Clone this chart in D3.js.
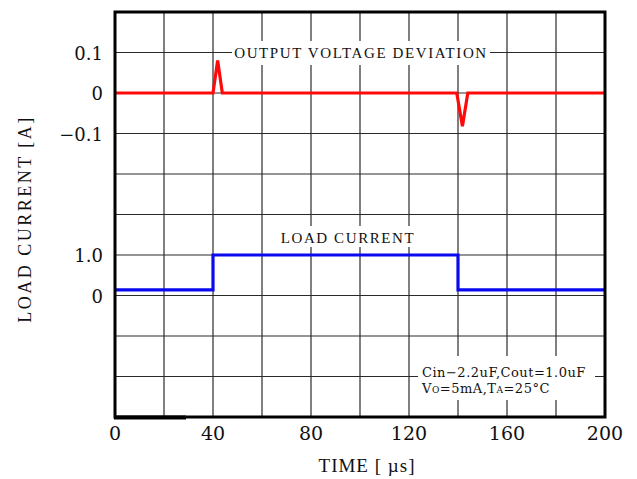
<!DOCTYPE html>
<html>
<head>
<meta charset="utf-8">
<script src="https://cdn.jsdelivr.net/npm/d3@7"></script>
<style>
body { margin: 0; background: #fff; }
text { font-family: "Liberation Serif", "DejaVu Serif", serif; fill: #111; }
text.num { font-family: "DejaVu Serif", serif; }
</style>
</head>
<body>
<svg id="chart" width="637" height="479"></svg>
<script>
// time axis [us]
var xTicks = [0, 40, 80, 120, 160, 200];
var xGrid = [0, 20, 40, 60, 80, 100, 120, 140, 160, 180, 200];

// output voltage deviation trace
var devTime = [0, 40, 41.9, 43.8, 139.5, 141.8, 144, 200];
var devValue = [0, 0, 0.08, 0, 0, -0.082, 0, 0];
var devTicks = [0.1, 0, -0.1];
var devTickLabels = ["0.1", "0", "\u22120.1"];

// load current trace
var loadTime = [0, 40, 40, 140, 140, 200];
var loadValue = [0.14, 0.14, 1.0, 1.0, 0.14, 0.14];
var loadTicks = [1.0, 0];
var loadTickLabels = ["1.0", "0"];

(function() {
	var svg = d3.select("#chart");
	var pl = 115, pr = 605, pt = 12, pb = 417;

	var x = d3.scaleLinear().domain([0, 200]).range([pl, pr]);
	// 10 grid rows over the plot height
	var row = d3.scaleLinear().domain([0, 10]).range([pt, pb]);
	var yDev = d3.scaleLinear().domain([0.1, -0.1]).range([row(1), row(3)]);
	var yLoad = d3.scaleLinear().domain([0, 1]).range([row(7), row(6)]);

	// grid
	var grid = svg.append("g").attr("stroke", "#2a2a2a").attr("stroke-width", 1.2);
	grid.selectAll("line.v").data(xGrid).enter().append("line")
		.attr("x1", function(d) { return x(d); })
		.attr("x2", function(d) { return x(d); })
		.attr("y1", pt).attr("y2", pb);
	grid.selectAll("line.h").data(d3.range(1, 10)).enter().append("line")
		.attr("x1", pl).attr("x2", pr)
		.attr("y1", function(d) { return row(d); })
		.attr("y2", function(d) { return row(d); });

	// white boxes under the labels break the grid
	svg.append("rect").attr("x", 232).attr("y", 41).attr("width", 258).attr("height", 24).attr("fill", "#fff");
	svg.append("rect").attr("x", 278).attr("y", 226).attr("width", 140).attr("height", 21).attr("fill", "#fff");
	svg.append("rect").attr("x", 418).attr("y", 356).attr("width", 177).attr("height", 44).attr("fill", "#fff");

	var line = d3.line();

	svg.append("path")
		.attr("d", line(devTime.map(function(t, i) { return [x(t), yDev(devValue[i])]; })))
		.attr("fill", "none").attr("stroke", "#ff0a0a").attr("stroke-width", 3.2);

	svg.append("path")
		.attr("d", line(loadTime.map(function(t, i) { return [x(t), yLoad(loadValue[i])]; })))
		.attr("fill", "none").attr("stroke", "#0a0af0").attr("stroke-width", 3.2);

	// frame
	svg.append("rect").attr("x", pl).attr("y", pt)
		.attr("width", pr - pl).attr("height", pb - pt)
		.attr("fill", "none").attr("stroke", "#000").attr("stroke-width", 3);
	svg.append("line").attr("x1", x(0) - 1).attr("x2", x(29))
		.attr("y1", pb + 0.5).attr("y2", pb + 0.5)
		.attr("stroke", "#000").attr("stroke-width", 4);

	// x tick labels
	svg.selectAll("text.xt").data(xTicks).enter().append("text")
		.attr("class", "num")
		.attr("x", function(d) { return x(d); })
		.attr("y", 440)
		.attr("text-anchor", "middle")
		.attr("font-size", 19)
		.text(function(d) { return d; });

	// y tick labels
	svg.selectAll("text.yd").data(devTicks).enter().append("text")
		.attr("class", "num")
		.attr("x", 103).attr("y", function(d) { return yDev(d) + 7; })
		.attr("text-anchor", "end").attr("font-size", 18)
		.text(function(d, i) { return devTickLabels[i]; });
	svg.selectAll("text.yl").data(loadTicks).enter().append("text")
		.attr("class", "num")
		.attr("x", 103).attr("y", function(d) { return yLoad(d) + 7; })
		.attr("text-anchor", "end").attr("font-size", 18)
		.text(function(d, i) { return loadTickLabels[i]; });

	// series labels
	svg.append("text").attr("x", 361).attr("y", 58)
		.attr("text-anchor", "middle").attr("font-size", 15)
		.attr("letter-spacing", 1.6)
		.text("OUTPUT VOLTAGE DEVIATION");
	svg.append("text").attr("x", 348).attr("y", 243)
		.attr("text-anchor", "middle").attr("font-size", 15)
		.attr("letter-spacing", 1.6)
		.text("LOAD CURRENT");

	// conditions
	svg.append("text").attr("class", "num").attr("x", 422).attr("y", 377)
		.attr("font-size", 13).attr("letter-spacing", 0.5)
		.text("Cin\u22122.2uF,Cout=1.0uF");
	var cond = svg.append("text").attr("class", "num").attr("x", 422).attr("y", 393)
		.attr("font-size", 13).attr("letter-spacing", 0.5);
	cond.append("tspan").text("V");
	cond.append("tspan").attr("font-size", 9).text("O");
	cond.append("tspan").text("=5mA,T");
	cond.append("tspan").attr("font-size", 9).text("A");
	cond.append("tspan").text("=25\u00b0C");

	// axis titles
	svg.append("text").attr("x", 367).attr("y", 472)
		.attr("text-anchor", "middle").attr("font-size", 19)
		.attr("letter-spacing", 1)
		.text("TIME  [ \u00b5s]");
	svg.append("text")
		.attr("transform", "translate(31,219) rotate(-90)")
		.attr("text-anchor", "middle").attr("font-size", 18)
		.attr("letter-spacing", 2.5)
		.text("LOAD  CURRENT  [A]");
})();
</script>
</body>
</html>
